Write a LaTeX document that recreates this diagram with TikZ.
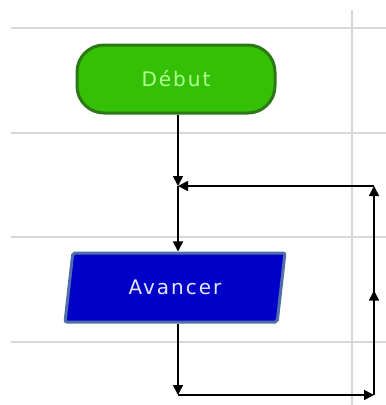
\documentclass[tikz,border=0pt]{standalone}
\usepackage{fontspec}
\setmainfont{DejaVu Sans}
\newfontfamily\boxfont[LetterSpace=10]{DejaVu Sans}
\usetikzlibrary{arrows.meta,shapes.geometric,decorations.markings}
\definecolor{gridc}{RGB}{216,216,216}
\definecolor{startfill}{RGB}{52,192,4}
\definecolor{startline}{RGB}{44,120,22}
\definecolor{starttext}{RGB}{180,255,150}
\definecolor{actfill}{RGB}{0,0,200}
\definecolor{actline}{RGB}{80,110,168}
\definecolor{acttext}{RGB}{230,230,250}
\tikzset{
  gridline/.style={draw=gridc,line width=1.4pt},
  startbox/.style={draw=startline,fill=startfill,line width=3pt,rounded corners=27pt,
    minimum width=198pt,minimum height=68pt,text=starttext,font=\boxfont\fontsize{20}{22}\selectfont},
  actbox/.style={draw=actline,fill=actfill,line width=3pt,rounded corners=2pt,trapezium,trapezium left angle=80,
    trapezium right angle=100,trapezium stretches=true,minimum width=220pt,minimum height=69pt,
    text=acttext,font=\boxfont\fontsize{20}{22}\selectfont},
  flow/.style={draw=black,line width=1.6pt,-{Triangle[length=10pt,width=10pt]}},
  midup/.style={postaction={decorate},decoration={markings,
    mark=at position 0.5 with {\arrow{Triangle[length=10pt,width=10pt]}}}}
}
\begin{document}
\begin{tikzpicture}[x=1pt,y=-1pt]
\useasboundingbox (0,0) rectangle (386,405);
% grid
\draw[gridline] (11,28) -- (386,28);
\draw[gridline] (11,133) -- (386,133);
\draw[gridline] (11,237) -- (386,237);
\draw[gridline] (11,342) -- (386,342);
\draw[gridline] (352,10) -- (352,405);
% nodes
\node[startbox] (debut) at (176,79) {Début};
\node[actbox] (avancer) at (175,287.5) {Avancer};
\coordinate (j1) at (178,186);
\coordinate (b1) at (178,395);
\coordinate (r1) at (374,395);
\coordinate (r2) at (374,186);
% connectors
\draw[flow] (debut.south -| j1) -- (j1);
\draw[flow] (j1) -- (avancer.north -| j1);
\draw[flow] (avancer.south -| b1) -- (b1);
\draw[flow] (b1) -- (r1);
\draw[flow,midup] (r1) -- (r2);
\draw[flow] (r2) -- (j1);
\end{tikzpicture}
\end{document}
